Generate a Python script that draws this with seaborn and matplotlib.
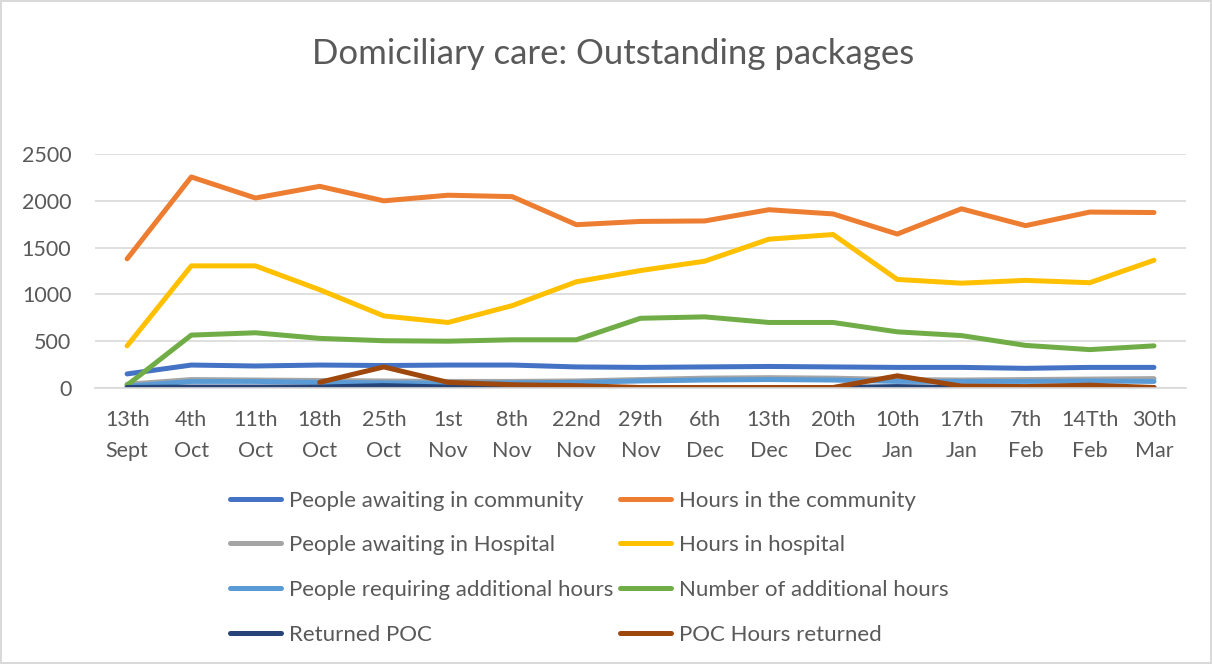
import numpy as np
import pandas as pd
import matplotlib
matplotlib.use('Agg')
import matplotlib.pyplot as plt
import seaborn as sns

weeks = ['13th\nSept', '4th\nOct', '11th\nOct', '18th\nOct', '25th\nOct', '1st\nNov', '8th\nNov',
         '22nd\nNov', '29th\nNov', '6th\nDec', '13th\nDec', '20th\nDec', '10th\nJan', '17th\nJan',
         '7th\nFeb', '14Tth\nFeb', '30th\nMar']

people_community = [150, 245, 235, 245, 240, 245, 245, 225, 220, 225, 230, 225, 220, 220, 210, 220, 220]
hours_community = [1380, 2255, 2030, 2155, 2000, 2060, 2045, 1745, 1780, 1785, 1905, 1860, 1645, 1915, 1735, 1880, 1875]
people_hospital = [40, 90, 85, 80, 75, 70, 70, 75, 90, 105, 110, 105, 90, 85, 90, 95, 100]
hours_hospital = [450, 1305, 1305, 1050, 770, 700, 880, 1135, 1255, 1355, 1590, 1640, 1160, 1120, 1150, 1125, 1365]
people_additional = [20, 70, 70, 60, 55, 50, 55, 60, 75, 85, 90, 85, 70, 70, 70, 75, 70]
additional_hours = [30, 565, 590, 530, 505, 500, 515, 515, 745, 760, 700, 700, 600, 560, 455, 410, 450]
returned_poc = [5, 10, 10, 10, 25, 10, 5, 5, 5, 5, 5, 5, 15, 5, 5, 5, 5]
poc_hours = [np.nan, np.nan, np.nan, 60, 225, 60, 35, 25, 5, 5, 5, 5, 130, 20, 15, 30, 5]

series = [
    ('People awaiting in community', people_community, '#4472C4'),
    ('Hours in the community', hours_community, '#ED7D31'),
    ('People awaiting in Hospital', people_hospital, '#A5A5A5'),
    ('Hours in hospital', hours_hospital, '#FFC000'),
    ('People requiring additional hours', people_additional, '#5B9BD5'),
    ('Number of additional hours', additional_hours, '#70AD47'),
    ('Returned POC', returned_poc, '#264478'),
    ('POC Hours returned', poc_hours, '#9E480E'),
]

sns.set_theme(style='white')
plt.rcParams['font.family'] = ['Lato', 'DejaVu Sans']

fig = plt.figure(figsize=(12.12, 6.64), dpi=100)
fig.patch.set_edgecolor('#D9D9D9')
fig.patch.set_linewidth(1.5)
ax = fig.add_axes([0.0784, 0.4157, 0.9002, 0.3523])

x = np.arange(len(weeks))
handles = {}
for name, vals, col in series:
    df = pd.DataFrame({'x': x, 'y': vals}).dropna()
    sns.lineplot(data=df, x='x', y='y', color=col, linewidth=3.6, ax=ax,
                 solid_capstyle='round', label=name, legend=False)
    handles[name] = ax.lines[-1]

ax.set_xlim(-0.5, len(weeks) - 0.5)
ax.set_ylim(0, 2500)
ax.set_yticks([0, 500, 1000, 1500, 2000, 2500])
ax.set_xticks(x)
ax.set_xticklabels(weeks)
ax.tick_params(axis='both', length=0, labelsize=15.5, colors='#595959')
ax.tick_params(axis='x', pad=16)
ax.tick_params(axis='y', pad=17)
ax.set_xlabel('')
ax.set_ylabel('')
ax.grid(axis='y', color='#D9D9D9', linewidth=1.2)
ax.set_axisbelow(True)
for s in ['top', 'left', 'right']:
    ax.spines[s].set_visible(False)
ax.spines['bottom'].set_color('#D9D9D9')
ax.spines['bottom'].set_linewidth(1.2)
for t in ax.get_xticklabels():
    t.set_linespacing(1.65)

fig.text(0.506, 0.918, 'Domiciliary care: Outstanding packages', ha='center', va='center',
         fontsize=25, color='#595959')

order = ['People awaiting in community', 'People awaiting in Hospital',
         'People requiring additional hours', 'Returned POC',
         'Hours in the community', 'Hours in hospital',
         'Number of additional hours', 'POC Hours returned']
leg = fig.legend([handles[n] for n in order], order, ncol=2, loc='upper left',
                 bbox_to_anchor=(0.1805, 0.278), frameon=False, fontsize=16,
                 handlelength=2.3, handletextpad=0.35, columnspacing=0.3, labelspacing=1.11,
                 borderpad=0)
for t in leg.get_texts():
    t.set_color('#595959')

fig.savefig('out.png', dpi=100)
